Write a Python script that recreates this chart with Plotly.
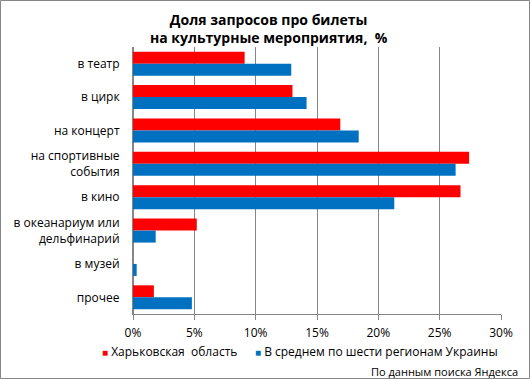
import plotly.graph_objects as go

categories = ["в театр", "в цирк", "на концерт", "на спортивные<br>события", "в кино",
              "в океанариум или<br>дельфинарий", "в музей", "прочее"]
kharkiv = [9.1, 13.0, 16.9, 27.4, 26.7, 5.2, 0.0, 1.7]
average6 = [12.9, 14.15, 18.4, 26.3, 21.3, 1.85, 0.3, 4.8]
tick_vals = [0, 5, 10, 15, 20, 25, 30]
tick_text = ["0%", "5%", "10%", "15%", "20%", "25%", "30%"]
series_names = ["Харьковская  область", "В среднем по шести регионам Украины"]
series_colors = ["#FF0000", "#0070C0"]
title_lines = ["Доля запросов про билеты", "на культурные мероприятия,  %"]
source_note = "По данным поиска Яндекса"

FONT = "Open Sans"
GRAY = "#868686"

fig = go.Figure()
fig.add_trace(go.Bar(y=categories, x=kharkiv, orientation="h", name=series_names[0],
                     marker=dict(color=series_colors[0], line=dict(width=0))))
fig.add_trace(go.Bar(y=categories, x=average6, orientation="h", name=series_names[1],
                     marker=dict(color=series_colors[1], line=dict(width=0))))

W, H = 530, 379
L, R, T, B = 133, 29, 47, 65
pw, ph = W - L - R, H - T - B


def px_x(x):
    return (x - L) / pw


def px_y(y):
    return (T + ph - y) / ph


fig.update_layout(
    width=W, height=H,
    margin=dict(l=L, r=R, t=T, b=B, autoexpand=False),
    paper_bgcolor="white", plot_bgcolor="white",
    font=dict(family=FONT, size=12, color="black"),
    barmode="group", bargap=0.28, bargroupgap=0,
    showlegend=False,
    xaxis=dict(range=[0, 30], tickvals=tick_vals, ticktext=tick_text,
               showgrid=True, gridcolor=GRAY, gridwidth=1,
               zeroline=True, zerolinecolor=GRAY, zerolinewidth=1,
               showline=True, linecolor=GRAY, linewidth=1,
               ticks="outside", ticklen=5, tickcolor=GRAY, ticklabelstandoff=3,
               tickfont=dict(size=12), fixedrange=True, automargin=False),
    yaxis=dict(autorange="reversed", showgrid=False, showline=True, linecolor=GRAY,
               ticks="", ticklabelstandoff=10, tickfont=dict(size=12), fixedrange=True,
               automargin=False),
)

# title
fig.add_annotation(text="<b>" + "<br>".join(title_lines) + "</b>",
                   xref="paper", yref="paper", x=px_x(269), y=px_y(8),
                   xanchor="center", yanchor="top", showarrow=False,
                   font=dict(size=14, family=FONT, color="black"))

# legend drawn as text items
legend_x = [100, 253]
for name, color, lx in zip(series_names, series_colors, legend_x):
    fig.add_annotation(text=f'<span style="color:{color};font-size:10px">■</span> {name}',
                       xref="paper", yref="paper", x=px_x(lx), y=px_y(351),
                       xanchor="left", yanchor="middle", showarrow=False,
                       font=dict(size=12, family=FONT))

fig.add_annotation(text=source_note, xref="paper", yref="paper",
                   x=px_x(520), y=px_y(371), xanchor="right", yanchor="middle",
                   showarrow=False, font=dict(size=11, family=FONT))

fig.add_shape(type="rect", xref="paper", yref="paper",
              x0=px_x(0.5), x1=px_x(W - 0.5), y0=px_y(H - 0.5), y1=px_y(0.5),
              line=dict(color=GRAY, width=1), fillcolor="rgba(0,0,0,0)")

fig.write_html("out.html", config={"displayModeBar": False},
               post_script="document.body.style.margin='0';document.body.style.overflow='hidden';")
